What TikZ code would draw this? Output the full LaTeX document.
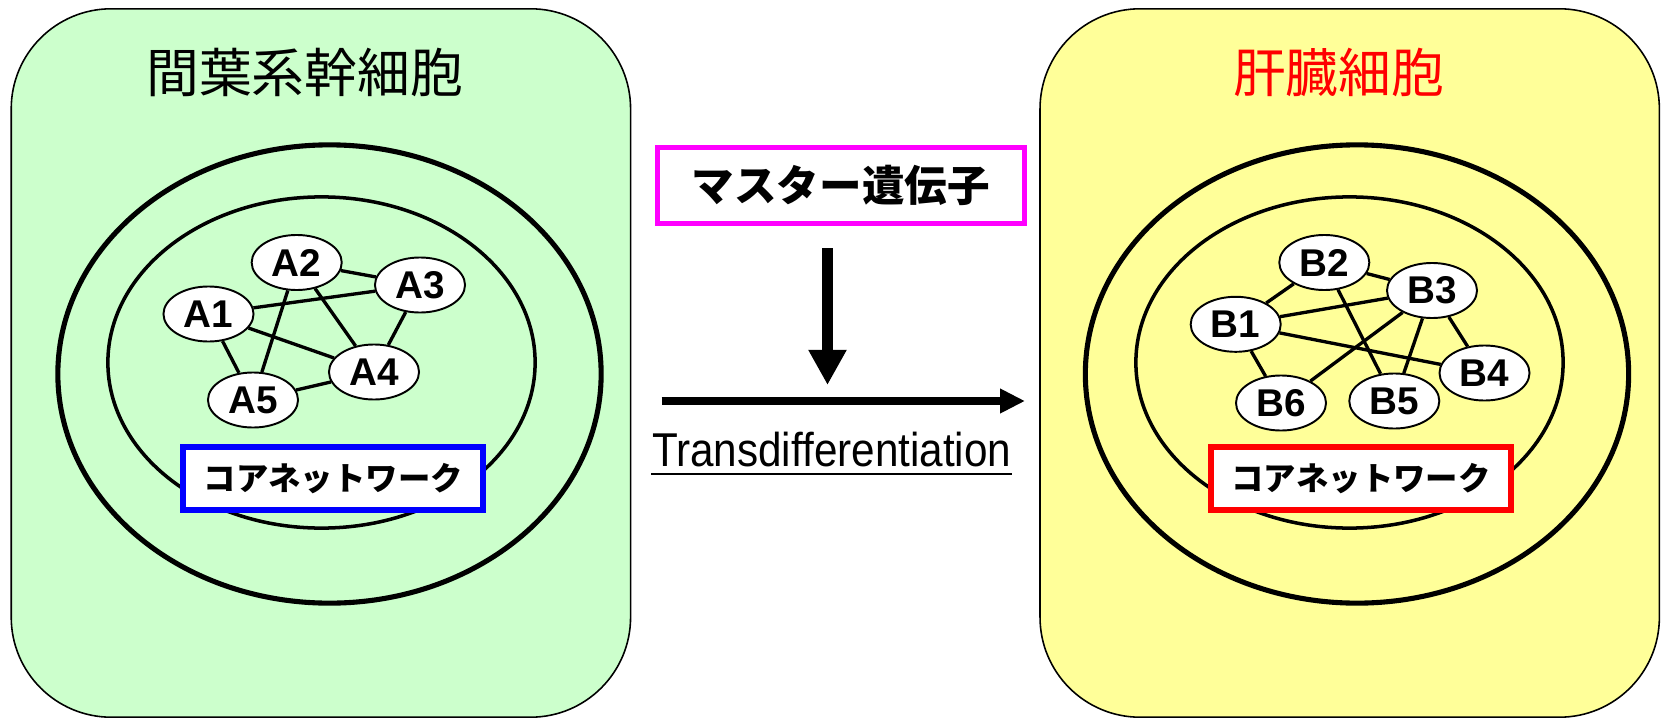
\documentclass[tikz,border=0pt]{standalone}
\usepackage{graphicx}
\usepackage{fontspec}
\setmainfont{Liberation Sans}
\newfontfamily\jpfont{Noto Sans CJK JP}
\usetikzlibrary{shapes.geometric,arrows.meta}
\definecolor{stemgreen}{HTML}{CCFFCC}
\definecolor{liveryellow}{HTML}{FFFF99}
\definecolor{mastermagenta}{HTML}{FF00FF}
\begin{document}
\begin{tikzpicture}[x=0.01cm,y=-0.01cm,
  panel/.style={draw=black,line width=0.45pt,rounded corners=1cm,
    minimum width=6.19cm,minimum height=7.08cm,inner sep=0pt},
  celltitle/.style={font=\jpfont\fontsize{15pt}{18pt}\selectfont},
  outerring/.style={ellipse,draw,line width=1.45pt,inner sep=0pt,
    minimum width=5.43cm,minimum height=4.58cm},
  innerring/.style={ellipse,draw,line width=1pt,inner sep=0pt,
    minimum width=4.27cm,minimum height=3.31cm},
  gene/.style={ellipse,draw,fill=white,line width=0.55pt,inner sep=0pt,
    minimum width=0.9cm,minimum height=0.55cm,
    font=\fontsize{11pt}{12pt}\selectfont\bfseries},
  link/.style={line width=0.95pt},
  corebox/.style={draw,fill=white,line width=1.7pt,inner sep=0pt,
    minimum width=3.0cm,minimum height=0.627cm,
    font=\jpfont\bfseries\fontsize{9.2pt}{10pt}\selectfont},
]
\useasboundingbox (0,0) rectangle (1663,718);

% ---- left cell: mesenchymal stem cell ----
\node[panel,fill=stemgreen] (panelA) at (320.9,363) {};
\node[celltitle] (titleA) at (304.5,72) {間葉系幹細胞};
\node[outerring] (outerA) at (329.5,374) {};
\node[innerring] (innerA) at (321.5,362.5) {};

\node[gene] (A1) at (208.5,314) {A1};
\node[gene] (A2) at (296.7,262.5) {A2};
\node[gene] (A3) at (420,285) {A3};
\node[gene] (A4) at (374,372) {A4};
\node[gene] (A5) at (253,400) {A5};

\draw[link] (A1) -- (A3);
\draw[link] (A1) -- (A4);
\draw[link] (A1) -- (A5);
\draw[link] (A2) -- (A3);
\draw[link] (A2) -- (A4);
\draw[link] (A2) -- (A5);
\draw[link] (A3) -- (A4);
\draw[link] (A4) -- (A5);

\node[corebox,draw=blue] (coreA) at (333.3,478.3) {コアネットワーク};

% ---- right cell: hepatocyte ----
\node[panel,fill=liveryellow] (panelB) at (1349.7,363) {};
\node[celltitle,text=red] (titleB) at (1338.5,72) {肝臓細胞};
\node[outerring] (outerB) at (1357,374) {};
\node[innerring] (innerB) at (1349.5,362.5) {};

\node[gene] (B1) at (1235.7,324.3) {B1};
\node[gene] (B2) at (1324.3,262.5) {B2};
\node[gene] (B3) at (1432,290.5) {B3};
\node[gene] (B4) at (1484.5,373) {B4};
\node[gene] (B5) at (1394.3,401) {B5};
\node[gene] (B6) at (1281,403) {B6};

\draw[link] (B1) -- (B2);
\draw[link] (B2) -- (B3);
\draw[link] (B1) -- (B3);
\draw[link] (B1) -- (B4);
\draw[link] (B1) -- (B6);
\draw[link] (B2) -- (B5);
\draw[link] (B3) -- (B6);
\draw[link] (B3) -- (B5);
\draw[link] (B3) -- (B4);

\node[corebox,draw=red] (coreB) at (1361,478.3) {コアネットワーク};

% ---- middle: master gene and transdifferentiation ----
\node[draw=mastermagenta,line width=1.4pt,inner sep=0pt,
  minimum width=3.667cm,minimum height=0.76cm,
  font=\jpfont\bfseries\fontsize{12.1pt}{14pt}\selectfont]
  (master) at (840.8,185.5) {マスター遺伝子};

\coordinate (vstart) at (827.5,248);
\coordinate (vend) at (827.5,385);
\draw[line width=3.3pt,-{Triangle[length=10pt,width=10.2pt]}] (vstart) -- (vend);

\coordinate (hstart) at (661.7,401);
\coordinate (hend) at (1025,401);
\draw[line width=2.4pt,-{Triangle[length=7.1pt,width=6.6pt]}] (hstart) -- (hend);

\node[anchor=base,inner sep=0pt,font=\fontsize{13.5pt}{15pt}\selectfont]
  (trans) at (831.7,466) {\scalebox{0.89}[1]{Transdifferentiation}};
\draw[line width=0.65pt] ([yshift=-2.3pt]trans.base west) -- ([yshift=-2.3pt]trans.base east);

\end{tikzpicture}
\end{document}
